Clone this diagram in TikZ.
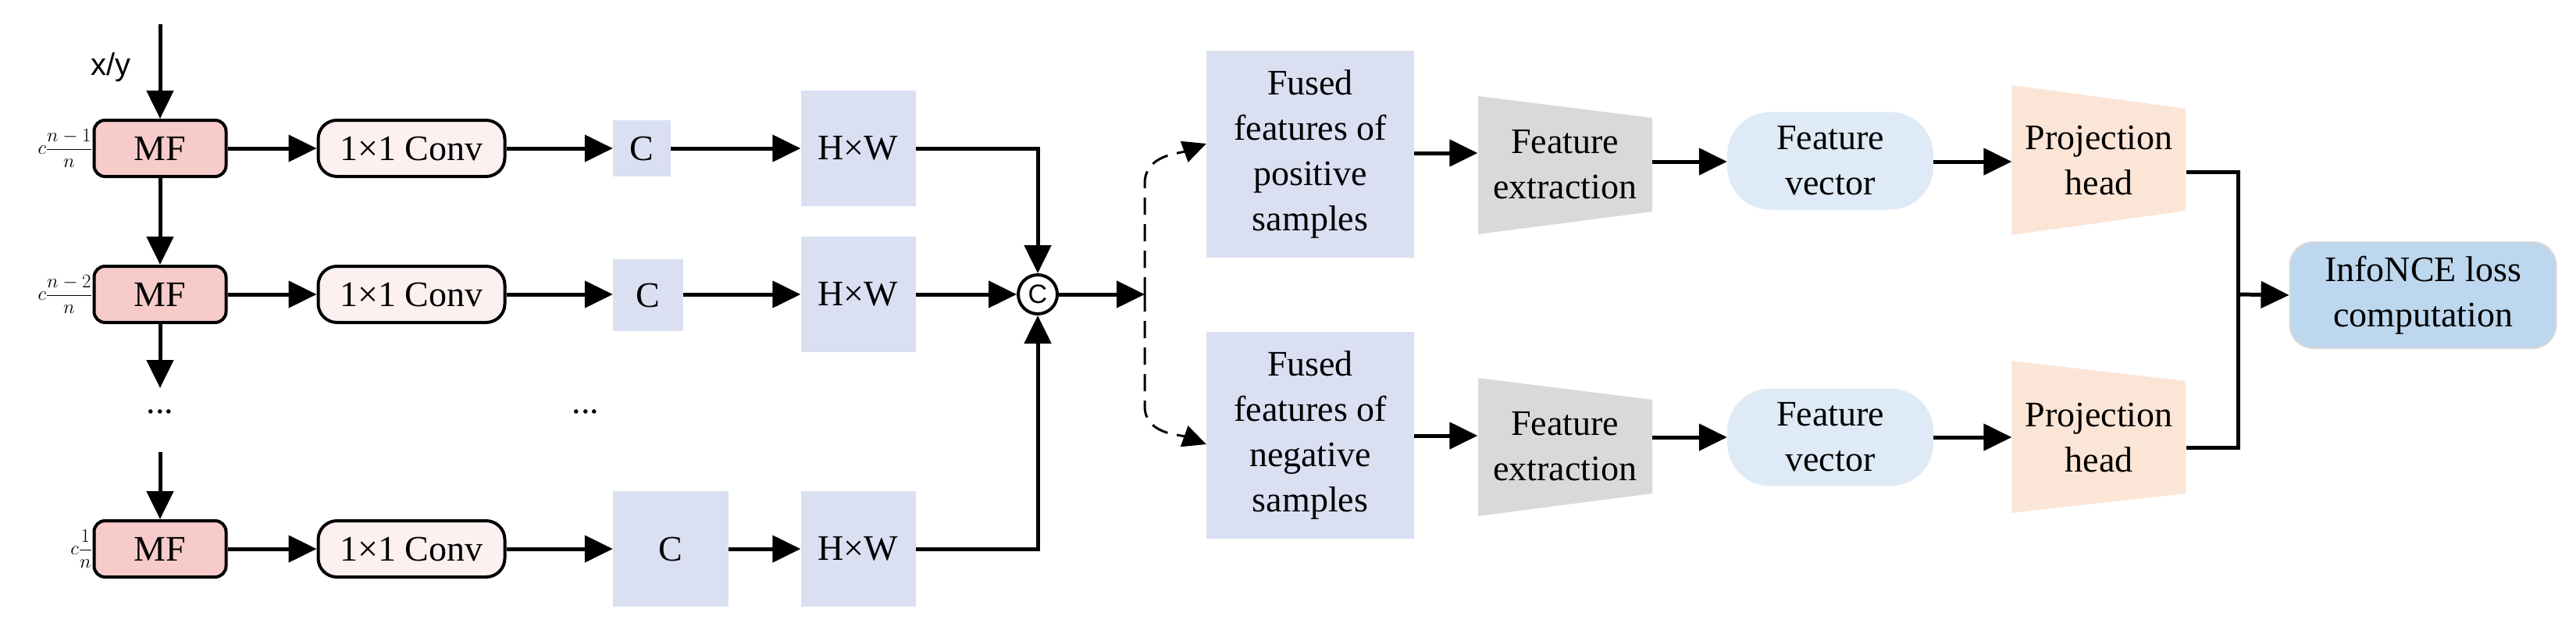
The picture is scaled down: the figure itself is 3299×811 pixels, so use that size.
\documentclass[tikz,border=0pt]{standalone}
\usepackage{fontspec}
\setmainfont{Liberation Serif}
\newfontfamily\sansf{Liberation Sans}
\usetikzlibrary{arrows.meta}
\definecolor{mfpink}{HTML}{F8CBCB}
\definecolor{convpink}{HTML}{FDF0F0}
\definecolor{lblue}{HTML}{DAE0F2}
\definecolor{lgray}{HTML}{D9D9D9}
\definecolor{vblue}{HTML}{DEEAF6}
\definecolor{porange}{HTML}{FBE5D6}
\definecolor{iblue}{HTML}{BDD7EE}
\tikzset{
  txt/.style={font=\fontsize{46}{58}\selectfont, align=center, inner sep=0pt},
  mf/.style={txt, draw, line width=4pt, fill=mfpink, rounded corners=14pt, minimum width=169pt, minimum height=72pt},
  conv/.style={txt, draw, line width=4pt, fill=convpink, rounded corners=24pt, minimum width=239pt, minimum height=72pt},
  bbox/.style={txt, fill=lblue},
  arr/.style={line width=5pt, -{Triangle[length=36pt,width=34pt]}},
  ln/.style={line width=5pt},
  frac/.style={font=\fontsize{36}{40}\selectfont, inner sep=0pt}
}
\begin{document}
\begin{tikzpicture}[x=1pt,y=-1pt]
\useasboundingbox (0,0) rectangle (3299,811);
% MF column
\node[mf] (mf1) at (205,190) {MF};
\node[mf] (mf2) at (205,377) {MF};
\node[mf] (mf3) at (205,703) {MF};
\node[frac, anchor=east] (f1) at (118,190) {$\displaystyle c\frac{n-1}{n}$};
\node[frac, anchor=east] (f2) at (118,377) {$\displaystyle c\frac{n-2}{n}$};
\node[frac, anchor=east] (f3) at (118,703) {$\displaystyle c\frac{1}{n}$};
\coordinate (in) at (205,31);
\node[font=\sansf\fontsize{40}{44}\selectfont, inner sep=0pt] (xy) at (142,86) {x/y};
\node[txt] (d1) at (205,527) {...};
\node[txt] (d2) at (750,527) {...};
\coordinate (mfdown) at (205,497);
\coordinate (mfup) at (205,579);
% conv
\node[conv] (c1) at (527,190) {1×1 Conv};
\node[conv] (c2) at (527,377) {1×1 Conv};
\node[conv] (c3) at (527,703) {1×1 Conv};
% C boxes
\node[bbox, minimum width=74pt, minimum height=72pt] (k1) at (822,190) {C};
\node[bbox, minimum width=90pt, minimum height=92pt] (k2) at (830,378) {C};
\node[bbox, minimum width=148pt, minimum height=148pt] (k3) at (859,703) {C};
% HxW
\node[bbox, minimum width=147pt, minimum height=148pt] (h1) at (1099,190) {H×W};
\node[bbox, minimum width=147pt, minimum height=148pt] (h2) at (1099,377) {H×W};
\node[bbox, minimum width=147pt, minimum height=148pt] (h3) at (1099,703) {H×W};
% concat
\node[draw, circle, line width=4pt, minimum size=50pt, inner sep=0pt, font=\sansf\fontsize{34}{34}\selectfont] (cat) at (1329,377) {C};
\coordinate (split) at (1466,377);
% fused
\node[bbox, minimum width=266pt, minimum height=265pt] (fp) at (1678,197) {Fused\\features of\\positive\\samples};
\node[bbox, minimum width=266pt, minimum height=265pt] (fn) at (1678,557) {Fused\\features of\\negative\\samples};
% feature extraction trapezoids
\fill[lgray] (1893,123) -- (2116,151) -- (2116,271) -- (1893,300) -- cycle;
\fill[lgray] (1893,484) -- (2116,512) -- (2116,632) -- (1893,661) -- cycle;
\node[txt, minimum width=223pt, minimum height=120pt] (fe1) at (2004,211) {Feature\\extraction};
\node[txt, minimum width=223pt, minimum height=120pt] (fe2) at (2004,572) {Feature\\extraction};
% feature vector
\node[txt, fill=vblue, rounded corners=55pt, minimum width=264pt, minimum height=125pt] (fv1) at (2344,206) {Feature\\vector};
\node[txt, fill=vblue, rounded corners=55pt, minimum width=264pt, minimum height=125pt] (fv2) at (2344,560) {Feature\\vector};
% projection heads
\fill[porange] (2576,109) -- (2799,139) -- (2799,270) -- (2576,301) -- cycle;
\fill[porange] (2576,462) -- (2799,488) -- (2799,632) -- (2576,657) -- cycle;
\node[txt, minimum width=223pt, minimum height=130pt] (ph1) at (2688,205) {Projection\\head};
\node[txt, minimum width=223pt, minimum height=130pt] (ph2) at (2688,560) {Projection\\head};
\coordinate (j) at (2866,377);
% InfoNCE
\node[txt, fill=iblue, draw=lgray, line width=2pt, rounded corners=30pt, minimum width=341pt, minimum height=136pt] (nce) at (3103,378) {InfoNCE loss\\computation};

% connectors
\draw[arr] (in) -- (mf1.north);
\draw[arr] (mf1.south) -- (mf2.north);
\draw[arr] (mf2.south) -- (mfdown);
\draw[arr] (mfup) -- (mf3.north);
\foreach \i in {1,2,3}{
  \draw[arr] (mf\i.east) -- (c\i.west);
  \draw[arr] (c\i.east) -- (k\i.west |- c\i.east);
  \draw[arr] (k\i.east |- c\i.east) -- (h\i.west |- c\i.east);
}
\draw[arr] (h1.east) -| (cat.north);
\draw[arr] (h2.east) -- (cat.west);
\draw[arr] (h3.east) -| (cat.south);
\draw[arr] (cat.east) -- (split);
\draw[line width=3pt, dashed, dash pattern=on 22pt off 12pt, -{Triangle[length=30pt,width=28pt]}] (split) -- (1466,235) to[out=90,in=200] (fp.west |- 0,184);
\draw[line width=3pt, dashed, dash pattern=on 22pt off 12pt, -{Triangle[length=30pt,width=28pt]}] (split) -- (1466,520) to[out=-90,in=160] (fn.west |- 0,569);
\draw[arr] (fp.east |- 0,196) -- (fe1.west |- 0,196);
\draw[arr] (fn.east |- 0,558) -- (fe2.west |- 0,558);
\draw[arr] (fe1.east |- 0,207) -- (fv1.west |- 0,207);
\draw[arr] (fe2.east |- 0,560) -- (fv2.west |- 0,560);
\draw[arr] (fv1.east |- 0,207) -- (ph1.west |- 0,207);
\draw[arr] (fv2.east |- 0,560) -- (ph2.west |- 0,560);
\draw[ln] (ph1.east |- 0,220) -| (j);
\draw[ln] (ph2.east |- 0,573) -| (j);
\draw[arr] (j) -- (nce.west);
\end{tikzpicture}
\end{document}
